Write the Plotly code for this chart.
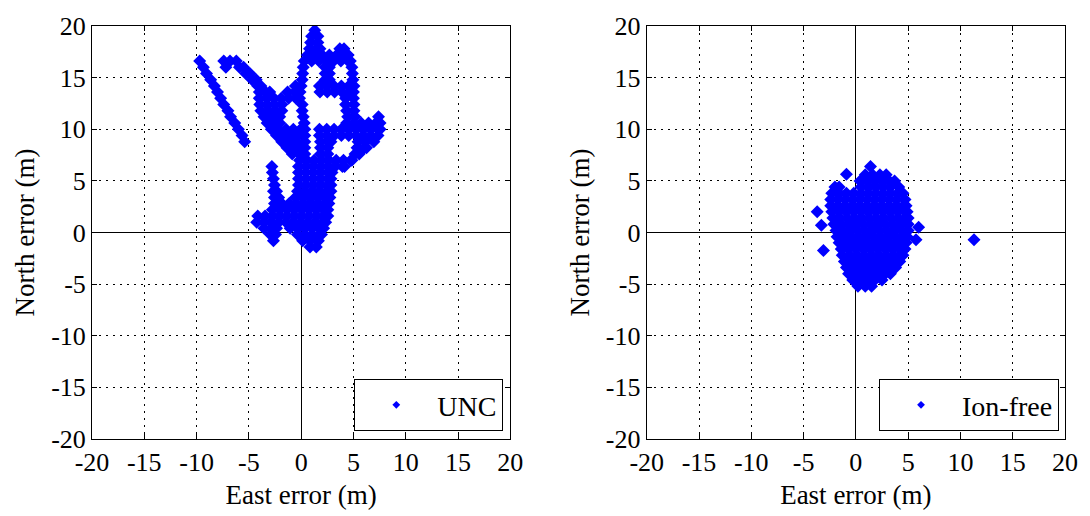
import plotly.graph_objects as go

# ---------------- data ----------------
tick_vals = [-20, -15, -10, -5, 0, 5, 10, 15, 20]
tick_text = ["-20", "-15", "-10", "-5", "0", "5", "10", "15", "20"]

# UNC solution: north error (m) -> east errors (m) of the plotted points
unc_rows = {
    19.6: [1.3],
    19.0: [1.0, 1.6],
    18.4: [0.9, 1.6],
    17.8: [0.8, 1.5, 1.8, 3.7, 4.1],
    17.2: [0.6, 1.3, 2.0, 2.7, 3.4, 4.1, 4.5],
    16.6: [-9.7, -7.4, -6.8, -6.2, 0.3, 1.0, 1.7, 2.4, 3.1, 3.8, 4.5, 4.7],
    16.0: [-9.35, -7.2, -5.9, -5.5, 0.2, 2.3, 2.7, 4.85],
    15.4: [-9.05, -5.3, -4.9, 0.15, 2.3, 2.7, 4.9],
    14.8: [-8.65, -4.7, -4.3, 0.1, 2.3, 2.7, 4.95],
    14.2: [-8.3, -4.15, -3.85, -0.55, 0.0, 1.75, 2.45, 3.15, 3.85, 4.55, 5.05],
    13.6: [-8.0, -4.0, -3.4, -3.0, -1.3, -0.6, -0.1, 1.8, 2.5, 3.2, 3.9, 4.6, 5.0],
    13.0: [-7.7, -4.0, -3.3, -2.6, -1.9, -1.2, -0.5, -0.15, 4.25, 5.0],
    12.4: [-7.4, -3.95, -3.25, -2.55, -1.85, 0.1, 4.25, 5.05],
    11.8: [-7.0, -3.85, -3.15, -2.45, -1.85, 0.1, 4.35, 5.05],
    11.2: [-6.75, -3.55, -2.85, -2.05, 0.2, 4.45, 5.15, 7.4],
    10.6: [-6.35, -3.25, -2.55, -2.05, 0.3, 4.35, 5.05, 5.75, 6.45, 7.15, 7.55],
    10.0: [-6.0, -2.85, -2.15, -1.45, -0.75, -0.05, 0.35, 1.75, 2.45, 3.15,
           3.85, 4.55, 5.25, 5.95, 6.65, 7.35, 7.55],
    9.4: [-5.65, -2.35, -1.65, -0.95, -0.25, 0.35, 1.75, 2.45, 3.15, 3.85,
          4.55, 5.25, 5.95, 6.65, 7.35],
    8.8: [-5.4, -1.85, -1.15, -0.45, 0.35, 1.85, 2.55, 2.85, 5.45, 6.15, 6.95],
    8.2: [-1.35, -0.65, 0.05, 0.35, 1.85, 2.55, 5.35, 6.05, 6.25],
    7.6: [-0.85, -0.15, 0.35, 1.85, 2.55, 5.15, 5.55],
    7.0: [-0.15, 0.55, 1.25, 1.95, 2.65, 3.35, 4.05, 4.75, 4.85],
    6.4: [-2.8, -0.25, 0.45, 1.15, 1.85, 2.55, 3.25, 3.95, 4.15],
    5.8: [-2.75, -0.25, 0.45, 1.15, 1.85, 2.55, 2.95],
    5.2: [-2.65, -0.25, 0.45, 1.15, 1.85, 2.55, 2.85],
    4.6: [-2.55, -0.25, 0.45, 1.15, 1.85, 2.55, 2.85],
    4.0: [-2.65, -2.35, -0.35, 0.35, 1.05, 1.75, 2.45, 2.85],
    3.4: [-2.55, -2.15, -0.55, 0.15, 0.85, 1.55, 2.25, 2.75],
    2.8: [-2.55, -1.85, -1.15, -0.45, 0.25, 0.95, 1.65, 2.35, 2.65],
    2.2: [-2.75, -2.05, -1.35, -0.65, 0.05, 0.75, 1.45, 2.15, 2.55],
    1.6: [-4.15, -3.45, -2.75, -2.05, -1.35, -0.65, 0.05, 0.75, 1.45, 2.15, 2.55],
    1.0: [-4.25, -3.55, -2.85, -2.15, -1.45, -0.75, -0.05, 0.65, 1.35, 2.05, 2.35],
    0.4: [-3.55, -2.85, -2.35, -1.05, -0.35, 0.35, 1.05, 1.75, 2.15],
    -0.2: [-2.95, -2.45, -0.35, 0.35, 1.05, 1.75, 1.95],
    -0.8: [-2.65, 0.15, 0.85, 1.55, 1.65],
    -1.4: [0.85, 1.45],
}

# Ion-free solution: north error (m) -> east errors (m)
ionfree_rows = {
    5.6: [0.9, 1.6, 2.3, 2.9],
    5.0: [0.4, 1.1, 1.8, 2.5, 3.2, 3.7],
    4.4: [-2.0, -1.6, 0.5, 1.2, 1.9, 2.6, 3.3, 4.1],
    3.8: [-2.3, -1.6, -0.9, -0.2, 0.5, 1.2, 1.9, 2.6, 3.3, 4.0, 4.5],
    3.2: [-2.4, -1.7, -1.0, -0.3, 0.4, 1.1, 1.8, 2.5, 3.2, 3.9, 4.7],
    2.6: [-2.4, -1.75, -1.05, -0.35, 0.35, 1.05, 1.75, 2.45, 3.15, 3.85, 4.55, 4.8],
    2.0: [-2.3, -1.6, -0.9, -0.2, 0.5, 1.2, 1.9, 2.6, 3.3, 4.0, 4.7, 4.9],
    1.4: [-2.2, -1.55, -0.85, -0.15, 0.55, 1.25, 1.95, 2.65, 3.35, 4.05, 4.75, 5.0],
    0.8: [-2.1, -1.4, -0.7, 0.0, 0.7, 1.4, 2.1, 2.8, 3.5, 4.2, 4.9, 5.0],
    0.2: [-1.9, -1.25, -0.55, 0.15, 0.85, 1.55, 2.25, 2.95, 3.65, 4.35, 5.0],
    -0.4: [-1.8, -1.1, -0.4, 0.3, 1.0, 1.7, 2.4, 3.1, 3.8, 4.5, 4.9],
    -1.0: [-1.6, -0.95, -0.25, 0.45, 1.15, 1.85, 2.55, 3.25, 3.95, 4.65, 4.8],
    -1.6: [-1.4, -0.7, 0.0, 0.7, 1.4, 2.1, 2.8, 3.5, 4.2, 4.7],
    -2.2: [-1.3, -0.6, 0.1, 0.8, 1.5, 2.2, 2.9, 3.6, 4.3, 4.5],
    -2.8: [-1.1, -0.4, 0.3, 1.0, 1.7, 2.4, 3.1, 3.8, 4.2],
    -3.4: [-0.9, -0.2, 0.5, 1.2, 1.9, 2.6, 3.3, 3.8],
    -4.0: [-0.7, 0.0, 0.7, 1.4, 2.1, 2.8, 3.3],
    -4.6: [-0.3, 0.4, 1.1, 1.8, 2.5],
    -5.2: [0.2, 0.9, 1.5],
}
ionfree_outlier_east = [1.4, -0.9, -3.7, -3.3, -3.1, 6.0, 5.75, 11.3]
ionfree_outlier_north = [6.4, 5.65, 2.0, 0.7, -1.75, 0.5, -0.7, -0.7]


def unpack(rows):
    east, north = [], []
    for n_val, e_vals in rows.items():
        for e_val in e_vals:
            east.append(e_val)
            north.append(n_val)
    return east, north


unc_east, unc_north = unpack(unc_rows)
ion_east, ion_north = unpack(ionfree_rows)
ion_east += ionfree_outlier_east
ion_north += ionfree_outlier_north

# ---------------- figure ----------------
BLUE = "#0000ff"
FONT = "Times New Roman, Liberation Serif, DejaVu Serif, serif"
MSIZE = 10

fig = go.Figure()
fig.add_trace(go.Scatter(x=unc_east, y=unc_north, mode="markers", xaxis="x", yaxis="y",
                         marker=dict(symbol="diamond", size=MSIZE, color=BLUE),
                         showlegend=False, hoverinfo="skip"))
fig.add_trace(go.Scatter(x=ion_east, y=ion_north, mode="markers", xaxis="x2", yaxis="y2",
                         marker=dict(symbol="diamond", size=MSIZE, color=BLUE),
                         showlegend=False, hoverinfo="skip"))
# legend entries
fig.add_trace(go.Scatter(x=[None], y=[None], mode="markers", xaxis="x", yaxis="y",
                         marker=dict(symbol="diamond", size=6, color=BLUE),
                         name="UNC", legend="legend"))
fig.add_trace(go.Scatter(x=[None], y=[None], mode="markers", xaxis="x2", yaxis="y2",
                         marker=dict(symbol="diamond", size=6, color=BLUE),
                         name="Ion-free", legend="legend2"))

axis_common = dict(
    range=[-20, 20], tickmode="array", tickvals=tick_vals, ticktext=tick_text,
    showgrid=True, gridcolor="black", griddash="2px,5px", gridwidth=1,
    zeroline=True, zerolinecolor="black", zerolinewidth=1,
    showline=True, linecolor="black", linewidth=1, mirror="ticks",
    ticks="inside", ticklen=5, tickcolor="black",
    tickfont=dict(family=FONT, size=26, color="black"),
    title_font=dict(family=FONT, size=27, color="black"),
)

L, R, T, B = 92, 21, 20, 75
W, H = 1090, 516
pw = W - L - R
ph = H - T - B

fig.update_layout(
    width=W, height=H,
    margin=dict(l=L, r=R, t=T, b=B),
    paper_bgcolor="white", plot_bgcolor="white",
    font=dict(family=FONT, color="black"),
    xaxis=dict(domain=[0, (512 - L) / pw], anchor="y",
               title=dict(text="East error (m)", standoff=8), **axis_common),
    yaxis=dict(domain=[0, 1], anchor="x",
               title=dict(text="North error (m)", standoff=8), **axis_common),
    xaxis2=dict(domain=[(649 - L) / pw, 1], anchor="y2",
                title=dict(text="East error (m)", standoff=8), **axis_common),
    yaxis2=dict(domain=[0, 1], anchor="x2",
                title=dict(text="North error (m)", standoff=8), **axis_common),
    legend=dict(x=(505 - L) / pw, y=(441 - 433) / ph, xanchor="right", yanchor="bottom",
                bgcolor="white", bordercolor="black", borderwidth=1, itemwidth=72,
                font=dict(family=FONT, size=28, color="black")),
    legend2=dict(x=(1063 - L) / pw, y=(441 - 433) / ph, xanchor="right", yanchor="bottom",
                 bgcolor="white", bordercolor="black", borderwidth=1, itemwidth=72,
                 font=dict(family=FONT, size=28, color="black")),
)

fig.write_html("out.html")
